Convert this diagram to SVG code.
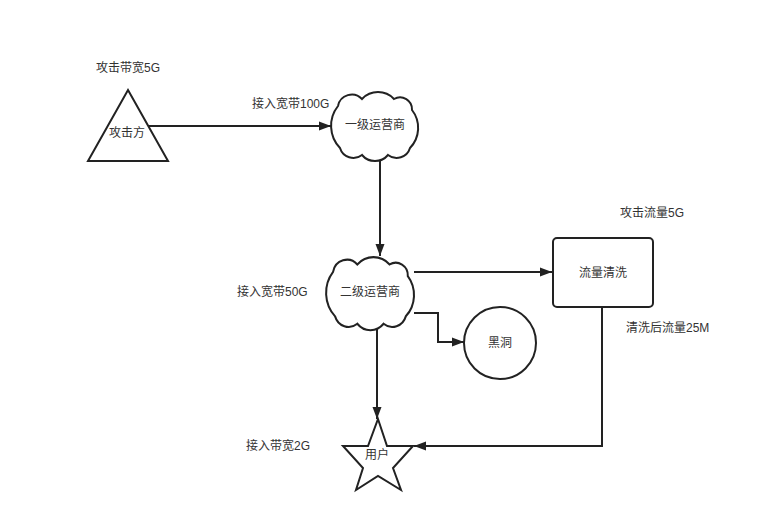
<svg xmlns="http://www.w3.org/2000/svg" width="780" height="522" viewBox="0 0 780 522">
<style>
.s{fill:#fff;stroke:#222;stroke-width:2}
.t{font-family:"Liberation Sans","Noto Sans CJK SC",sans-serif;font-size:12px;fill:#333}
.m{text-anchor:middle}
.c{fill:none;stroke:#222;stroke-width:2}
</style>
<defs>
<marker id="a" markerUnits="userSpaceOnUse" markerWidth="13" markerHeight="10" refX="12" refY="5" orient="auto">
<path d="M0,0.5 L12,5 L0,9.5 z" fill="#222"/>
</marker>
<path id="cloud" d="M7,14 A14,14 0 0 1 31,7 A22,22 0 0 1 63,7 A12,12 0 0 1 81,18 A29,29 0 0 1 79,56 A14,14 0 0 1 57,63 A17,17 0 0 1 31,63 A14,14 0 0 1 9,56 A32,32 0 0 1 7,14 Z"/>
</defs>
<rect width="780" height="522" fill="#fff"/>
<g id="connectors">
<path class="c" d="M148,126 L331,126" marker-end="url(#a)"/>
<path class="c" d="M380,158 L380,256" marker-end="url(#a)"/>
<path class="c" d="M414,272 L552,272" marker-end="url(#a)"/>
<path class="c" d="M414,313 L438,313 L438,342 L464,342" marker-end="url(#a)"/>
<path class="c" d="M377,327 L377,419" marker-end="url(#a)"/>
<path class="c" d="M602,307 L602,446 L414,446" marker-end="url(#a)"/>
</g>
<g id="attacker">
<polygon class="s" points="128,90 168,161 88,161"/>
<text class="t m" x="127" y="137">攻击方</text>
</g>
<g id="isp1">
<use href="#cloud" class="s" transform="translate(331,92)"/>
<text class="t m" x="375" y="129">一级运营商</text>
</g>
<g id="isp2">
<use href="#cloud" class="s" transform="translate(326,257) scale(1.01,1.06)" style="vector-effect:non-scaling-stroke"/>
<text class="t m" x="370" y="296">二级运营商</text>
</g>
<g id="scrub">
<rect class="s" x="553" y="238" width="100" height="69" rx="4"/>
<text class="t m" x="603" y="277">流量清洗</text>
</g>
<g id="blackhole">
<circle class="s" cx="500" cy="343" r="36"/>
<text class="t m" x="500" y="347">黑洞</text>
</g>
<g id="user">
<polygon class="s" points="378,419 387,446 413,446 393,468 401,490 378,476 356,490 363,468 343,446 368,446"/>
<text class="t m" x="377" y="459">用户</text>
</g>
<g id="labels">
<text class="t" x="96" y="72">攻击带宽5G</text>
<text class="t" x="252" y="108">接入宽带100G</text>
<text class="t" x="237" y="296">接入宽带50G</text>
<text class="t" x="620" y="217">攻击流量5G</text>
<text class="t" x="626" y="332">清洗后流量25M</text>
<text class="t" x="246" y="450">接入带宽2G</text>
</g>
</svg>
